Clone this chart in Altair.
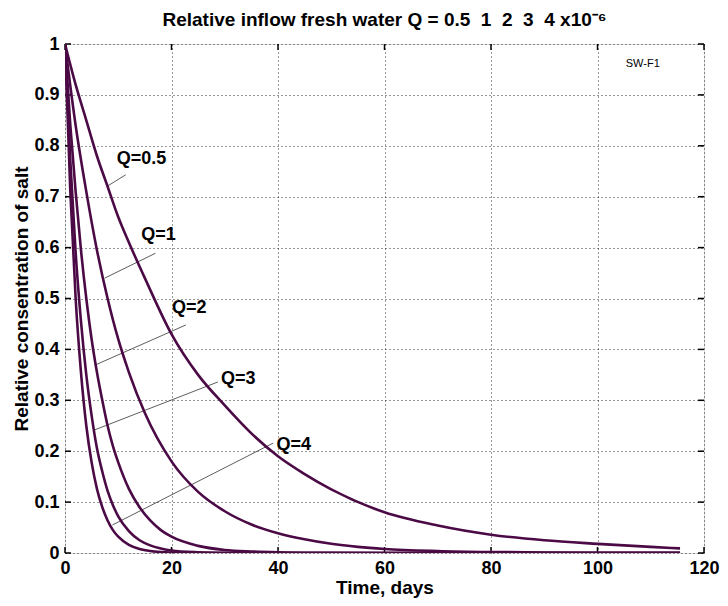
import altair as alt
import pandas as pd

# ---- curve data (time in days, relative concentration) ----
t_q05 = [0, 2, 4, 6, 8, 10, 12, 15, 20, 25, 30, 35, 40, 45, 50, 60, 70, 80, 90, 100, 110, 115.5]
c_q05 = [1, 0.92, 0.85, 0.78, 0.72, 0.66, 0.61, 0.54, 0.43, 0.35, 0.29, 0.235, 0.19, 0.155, 0.125,
         0.08, 0.054, 0.036, 0.025, 0.018, 0.012, 0.009]

t_q1 = [0, 2, 4, 6, 8, 10, 12, 15, 20, 25, 30, 35, 40, 45, 50, 55, 60, 70, 80, 90, 100, 115.5]
c_q1 = [1, 0.84, 0.71, 0.595, 0.50, 0.42, 0.355, 0.275, 0.18, 0.12, 0.082, 0.056, 0.039, 0.027,
        0.018, 0.012, 0.008, 0.004, 0.002, 0.001, 0.0005, 0.0002]

t_q2 = [0, 1, 2, 3, 4, 5, 6, 7, 8, 9, 10, 12, 14, 16, 18, 20, 25, 30, 35, 40, 50, 60, 115.5]
c_q2 = [1, 0.84, 0.71, 0.595, 0.50, 0.42, 0.355, 0.30, 0.25, 0.21, 0.178, 0.126, 0.09, 0.064,
        0.045, 0.032, 0.014, 0.006, 0.003, 0.0015, 0.0004, 0.0001, 0]

t_q3 = [0, 1, 2, 3, 4, 5, 6, 7, 8, 9, 10, 12, 14, 16, 18, 20, 25, 30, 40, 115.5]
c_q3 = [1, 0.77, 0.59, 0.455, 0.35, 0.27, 0.206, 0.16, 0.122, 0.094, 0.072, 0.043, 0.025, 0.015,
        0.009, 0.005, 0.0015, 0.0004, 0, 0]

t_q4 = [0, 1, 2, 3, 4, 5, 6, 7, 8, 9, 10, 12, 14, 16, 18, 20, 25, 30, 115.5]
c_q4 = [1, 0.71, 0.50, 0.355, 0.25, 0.178, 0.126, 0.09, 0.064, 0.045, 0.032, 0.016, 0.008, 0.004,
        0.002, 0.001, 0.0002, 0, 0]

series_names = ["Q=0.5", "Q=1", "Q=2", "Q=3", "Q=4"]
series_t = [t_q05, t_q1, t_q2, t_q3, t_q4]
series_c = [c_q05, c_q1, c_q2, c_q3, c_q4]

# ---- annotation labels and leader lines (data coordinates) ----
label_text = ["Q=0.5", "Q=1", "Q=2", "Q=3", "Q=4"]
label_t = [9.7, 14.3, 20.1, 29.3, 39.7]
label_c = [0.775, 0.624, 0.482, 0.341, 0.212]
lead_t1 = [11.4, 17.0, 22.7, 28.7, 39.1]
lead_c1 = [0.743, 0.589, 0.448, 0.336, 0.216]
lead_t2 = [8.0, 7.45, 5.6, 5.6, 8.9]
lead_c2 = [0.721, 0.540, 0.369, 0.242, 0.055]

x_ticks = [0, 20, 40, 60, 80, 100, 120]
y_ticks = [0, 0.1, 0.2, 0.3, 0.4, 0.5, 0.6, 0.7, 0.8, 0.9, 1]

tag_text = ["SW-F1"]
tag_t = [105.3]
tag_c = [0.961]

title_main = "Relative inflow fresh water Q = 0.5\u00a0\u00a01\u00a0\u00a02\u00a0\u00a03\u00a0\u00a04 x10\u207b\u2076"

rows = []
for name, ts, cs in zip(series_names, series_t, series_c):
    for i, (t, c) in enumerate(zip(ts, cs)):
        rows.append({"series": name, "t": t, "c": c, "order": i})
curves = pd.DataFrame(rows)
labels = pd.DataFrame({"text": label_text, "t": label_t, "c": label_c})
leaders = pd.DataFrame({"t1": lead_t1, "c1": lead_c1, "t2": lead_t2, "c2": lead_c2})
xt = pd.DataFrame({"v": x_ticks})
yt = pd.DataFrame({"v": y_ticks})
tag = pd.DataFrame({"text": tag_text, "t": tag_t, "c": tag_c})

W, H = 639, 509
FONT = "Liberation Sans"
PURPLE = "#4B0A45"

xscale = alt.Scale(domain=[0, 120], nice=False, zero=False)
yscale = alt.Scale(domain=[0, 1], nice=False, zero=False)

xaxis = alt.Axis(values=x_ticks, title="Time, days", ticks=False, domain=False,
                 labelFont=FONT, labelFontSize=18, labelFontWeight="bold", labelColor="black",
                 labelPadding=6, labelFlush=False, labelOverlap=False,
                 titleFont=FONT, titleFontSize=19, titleFontWeight="bold", titleColor="black",
                 titlePadding=1,
                 grid=True, gridColor="black", gridDash=[1, 3], gridWidth=1, gridOpacity=0.8)
yaxis = alt.Axis(values=y_ticks, title="Relative consentration of salt", ticks=False, domain=False,
                 format=".1~f",
                 labelFont=FONT, labelFontSize=18, labelFontWeight="bold", labelColor="black",
                 labelPadding=6, labelFlush=False, labelOverlap=False,
                 titleFont=FONT, titleFontSize=19, titleFontWeight="bold", titleColor="black",
                 titlePadding=2,
                 grid=True, gridColor="black", gridDash=[1, 3], gridWidth=1, gridOpacity=0.8)

lines = alt.Chart(curves).mark_line(color=PURPLE, strokeWidth=2.6, interpolate="monotone", clip=True).encode(
    x=alt.X("t:Q", scale=xscale, axis=xaxis),
    y=alt.Y("c:Q", scale=yscale, axis=yaxis),
    detail="series:N",
    order="order:Q",
)

lead = alt.Chart(leaders).mark_rule(color="#333333", strokeWidth=0.8).encode(
    x=alt.X("t1:Q", scale=xscale), y=alt.Y("c1:Q", scale=yscale),
    x2="t2:Q", y2="c2:Q",
)

lbl = alt.Chart(labels).mark_text(align="left", baseline="middle", font=FONT, fontSize=18,
                                  fontWeight="bold", color="black").encode(
    x=alt.X("t:Q", scale=xscale), y=alt.Y("c:Q", scale=yscale), text="text:N",
)

tagm = alt.Chart(tag).mark_text(align="left", baseline="middle", font=FONT, fontSize=11,
                                color="black").encode(
    x=alt.X("t:Q", scale=xscale), y=alt.Y("c:Q", scale=yscale), text="text:N",
)

tick_len = 6
xt_bottom = alt.Chart(xt).mark_rule(color="black", strokeWidth=1.5).encode(
    x=alt.X("v:Q", scale=xscale), y=alt.value(H), y2=alt.value(H - tick_len))
xt_top = alt.Chart(xt).mark_rule(color="black", strokeWidth=1.5).encode(
    x=alt.X("v:Q", scale=xscale), y=alt.value(0), y2=alt.value(tick_len))
yt_left = alt.Chart(yt).mark_rule(color="black", strokeWidth=1.5).encode(
    y=alt.Y("v:Q", scale=yscale), x=alt.value(0), x2=alt.value(tick_len))
yt_right = alt.Chart(yt).mark_rule(color="black", strokeWidth=1.5).encode(
    y=alt.Y("v:Q", scale=yscale), x=alt.value(W), x2=alt.value(W - tick_len))

chart = alt.layer(xt_bottom, xt_top, yt_left, yt_right, lead, lines, lbl, tagm).properties(
    width=W, height=H,
    title=alt.TitleParams(title_main, font=FONT, fontSize=19, fontWeight="bold",
                          color="black", anchor="middle", offset=5),
    autosize=alt.AutoSizeParams(type="none"),
    padding={"left": 57, "top": 36, "right": 16, "bottom": 45},
).configure_view(stroke="black", strokeWidth=2).configure(background="white")

chart.save("out.html", embed_options={"renderer": "svg", "actions": False})
